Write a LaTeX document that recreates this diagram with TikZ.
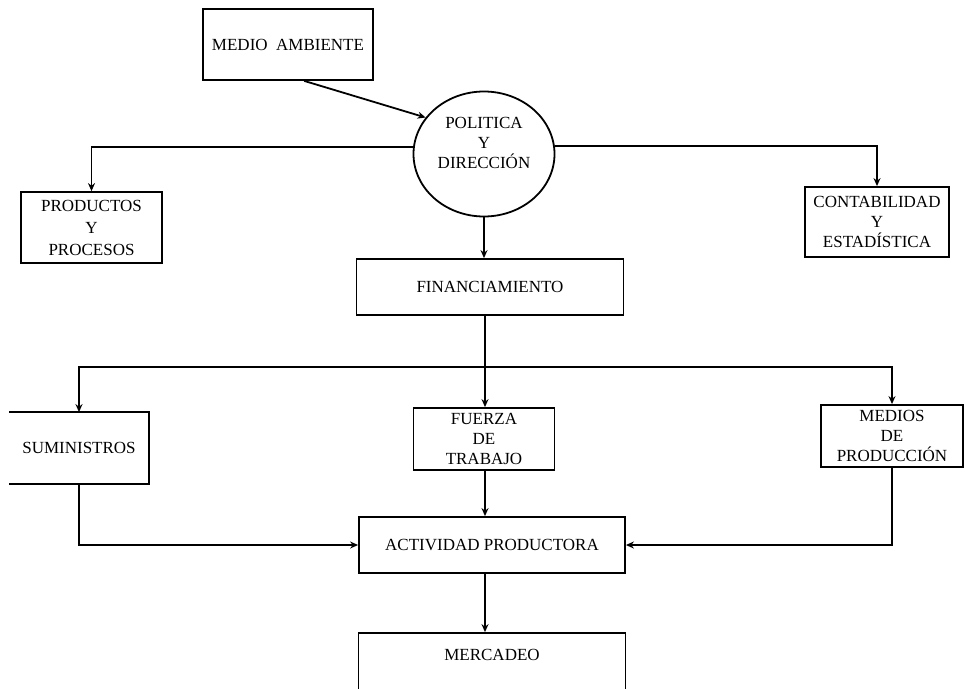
\documentclass[tikz,border=0pt]{standalone}
\usepackage{fontspec}
\setmainfont{Liberation Serif}
\usetikzlibrary{shapes.geometric, arrows.meta}

\begin{document}
\begin{tikzpicture}[->, >={Stealth[length=8pt, width=7pt]}, x=1pt, y=-1pt, line width=1.8pt,
  every node/.style={font=\fontsize{17}{20}\selectfont, align=center}]
  \tikzstyle{block}=[draw=black, rectangle, inner ysep=0pt, inner xsep=2pt]
  \tikzstyle{oval}=[draw=black, ellipse, inner sep=1pt, minimum width=141pt, minimum height=125pt, text depth=22pt]

  \useasboundingbox (0,0) rectangle (965,688);
  \clip (0,0) rectangle (965,688);

  % Blocks
  \node[block, minimum width=170pt, minimum height=71pt] (amb) at (288,44.5) {MEDIO~~AMBIENTE};
  \node[oval] (pol) at (484,154) {POLITICA\\Y\\DIRECCIÓN};
  \node[block, minimum width=141pt, minimum height=71pt, font=\fontsize{17}{22}\selectfont] (prod) at (91.5,227.5) {PRODUCTOS\\Y\\PROCESOS};
  \node[block, minimum width=144pt, minimum height=70pt] (cont) at (877,222) {CONTABILIDAD\\Y\\ESTADÍSTICA};
  \node[block, minimum width=267pt, minimum height=56pt] (fin) at (490,287) {FINANCIAMIENTO};
  \node[minimum width=138pt, minimum height=70pt, inner sep=0pt] (sum) at (79,448) {SUMINISTROS};
  \node[block, minimum width=141pt, minimum height=62pt] (fza) at (484,439) {FUERZA\\DE\\TRABAJO};
  \node[block, minimum width=142pt, minimum height=62pt] (med) at (892,436) {MEDIOS\\DE\\PRODUCCIÓN};
  \node[block, minimum width=266pt, minimum height=56pt] (act) at (492,545) {ACTIVIDAD PRODUCTORA};
  \node[block, minimum width=267pt, minimum height=80pt, text depth=36pt] (mer) at (492,673) {MERCADEO};
  \draw[-] (sum.north west) -- (sum.north east) -- (sum.south east) -- (sum.south west);

  % Connections
  \coordinate (bus) at (485,367);
  \draw (amb.-66) -- (pol.148);
  \draw ([yshift=7pt]pol.west) -| (prod.north);
  \draw ([yshift=8pt]pol.east) -| (cont.north);
  \draw (pol.south) -- (pol.south |- fin.north);
  \draw[-] (fin.south -| bus) -- (bus);
  \draw (bus) -| (sum.north);
  \draw (bus) -| (med.north);
  \draw (bus) -- (bus |- fza.north);
  \draw (fza.south -| bus) -- (bus |- act.north);
  \draw (sum.south) |- (act.west);
  \draw (med.south) |- (act.east);
  \draw (act.south -| bus) -- (bus |- mer.north);

\end{tikzpicture}
\end{document}
